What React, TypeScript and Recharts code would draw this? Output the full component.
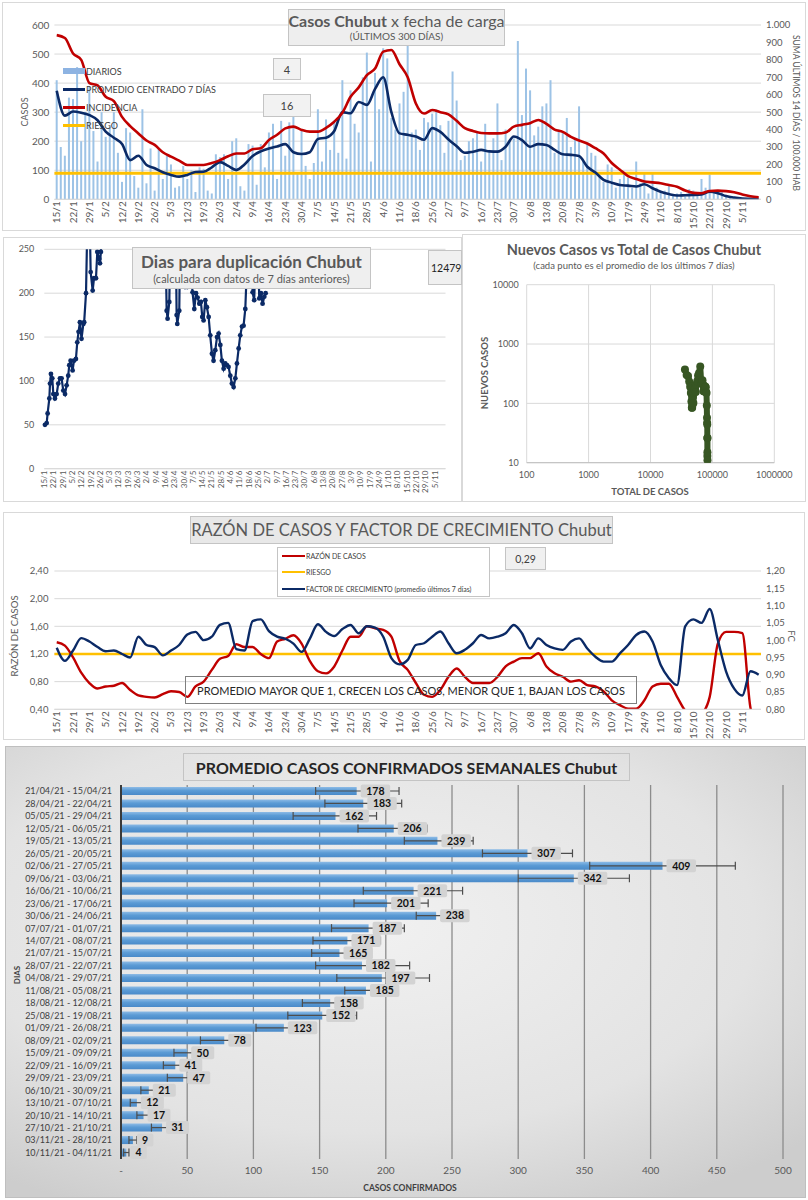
import React from 'react';
import {
  ComposedChart,
  LineChart,
  ScatterChart,
  BarChart,
  Bar,
  Line,
  Scatter,
  XAxis,
  YAxis,
  CartesianGrid,
  ReferenceLine,
  ErrorBar,
  LabelList,
} from 'recharts';

const FONT = 'Lato, "Open Sans", sans-serif';
const GRIS = '#595959';

// una etiqueta por semana desde el 15/1
const SEMANAS = [
  '15/1', '22/1', '29/1', '5/2', '12/2', '19/2', '26/2', '5/3', '12/3', '19/3', '26/3',
  '2/4', '9/4', '16/4', '23/4', '30/4', '7/5', '14/5', '21/5', '28/5', '4/6', '11/6',
  '18/6', '25/6', '2/7', '9/7', '16/7', '23/7', '30/7', '6/8', '13/8', '20/8', '27/8',
  '3/9', '10/9', '17/9', '24/9', '1/10', '8/10', '15/10', '22/10', '29/10', '5/11',
];
const TICKS_DIAS = SEMANAS.map((_, i) => i * 7);

// ---- Casos x fecha de carga: barras cada 1,75 dias, lineas cada 3,5 dias
const DIARIOS = [
  410, 180, 150, 350, 345, 455, 200, 300, 390, 235, 130, 300, 215, 250, 300, 160, 60, 245, 230, 80,
  40, 310, 55, 175, 30, 175, 70, 150, 120, 40, 45, 115, 70, 100, 25, 110, 105, 30, 20, 155,
  145, 155, 70, 200, 210, 45, 30, 190, 185, 50, 190, 110, 230, 260, 70, 270, 150, 265, 290, 90,
  235, 115, 70, 125, 310, 130, 275, 170, 270, 160, 410, 140, 375, 260, 230, 420, 505, 130, 435, 310,
  520, 485, 280, 240, 330, 370, 560, 230, 240, 170, 280, 265, 295, 310, 255, 160, 270, 440, 340, 135,
  150, 200, 210, 230, 130, 260, 170, 210, 330, 135, 240, 200, 210, 545, 290, 450, 375, 220, 250, 320,
  330, 410, 160, 240, 230, 280, 180, 210, 320, 130, 190, 160, 150, 80, 60, 120, 110, 40, 70, 90,
  75, 40, 130, 55, 90, 20, 90, 40, 25, 30, 50, 15, 20, 25, 10, 35, 30, 15, 70, 40,
  85, 30, 20, 25, 15, 10, 5, 8, 4, 6, 3, 2, 2,
];
const PROMEDIO_7D = [
  374, 288, 302, 298, 290, 272, 233, 212, 190, 135,
  150, 118, 107, 93, 84, 78, 84, 94, 95, 110,
  128, 115, 101, 120, 149, 165, 175, 182, 190, 162,
  156, 162, 208, 212, 235, 300, 296, 335, 325, 380,
  420, 300, 227, 222, 216, 205, 245, 232, 206, 183,
  160, 164, 170, 165, 164, 181, 216, 204, 181, 190,
  187, 170, 155, 153, 149, 112, 92, 67, 57, 49,
  47, 44, 52, 38, 26, 18, 13, 14, 15, 17,
  26, 21, 11, 6, 3, 2, 2,
];
const INCIDENCIA = [
  942, 925, 837, 800, 667, 653, 588, 563, 473, 420,
  378, 337, 312, 270, 245, 222, 197, 197, 197, 208,
  225, 247, 263, 263, 287, 293, 340, 370, 407, 417,
  398, 388, 388, 410, 445, 497, 588, 642, 713, 750,
  847, 857, 775, 700, 550, 492, 512, 500, 487, 450,
  408, 392, 380, 378, 378, 383, 417, 427, 437, 455,
  433, 400, 387, 358, 337, 320, 293, 263, 208, 170,
  133, 117, 102, 97, 92, 82, 72, 50, 37, 35,
  48, 50, 47, 40, 28, 17, 12,
];
const RIESGO_INCIDENCIA = 150;

// ---- Dias para duplicacion (dia desde 15/1, dias)
const DUP_DIA = [
  0.5, 1.8, 2.5, 3.8, 4.3, 5, 6, 6.8, 8, 9.3, 10.5, 11.8, 13, 14.3, 15.6, 16.8, 18, 18.8, 19.8, 21.3,
  22.3, 23.8, 24.8, 25.8, 26.8, 28, 29.4, 30, 31.4, 32.4, 33.6, 34.9, 36.4, 37.4, 38.9, 39.9, 41.4, 41.9, 42.6, 43.9,
  47, 52, 58, 64, 70, 76, 82, 88, 90.8, 92.1, 92.8, 94.1, 95.1, 97, 98.8, 99.6, 100.1, 101.6, 102.4, 104.1,
  105.9, 107.6, 109.6, 111.6, 112.9, 114.2, 115.4, 116.7, 117.9, 118.9, 119.9, 121.2, 122.4, 123.7, 124.9, 126.2, 127.4, 128.7, 130, 131.2,
  132.5, 133.7, 135, 136.2, 137.5, 138.7, 140, 141.2, 142.5, 143.8, 145, 146.3, 147.5, 148.8, 150, 151.3, 152.5, 153.8, 155.3, 156.8,
  158, 159.3, 160.6, 161.8, 163.1, 164.3, 165.6, 166.6,
];
const DUP_VALOR = [
  50, 52, 63, 80, 97, 108, 103, 85, 80, 85, 97, 103, 103, 89, 85, 95, 106, 118, 123, 112,
  123, 125, 144, 156, 167, 148, 165, 167, 200, 280, 330, 224, 203, 217, 217, 247, 239, 234, 247, 300,
  360, 420, 480, 520, 470, 430, 380, 330, 300, 180, 171, 190, 290, 330, 290, 175, 165, 180, 290, 300,
  207, 207, 240, 201, 182, 200, 195, 188, 190, 173, 169, 192, 184, 173, 152, 131, 123, 135, 150, 154,
  141, 123, 114, 120, 118, 116, 106, 97, 93, 103, 120, 137, 152, 162, 163, 182, 230, 300, 320, 201,
  192, 260, 270, 194, 200, 188, 196, 200,
];

// ---- Nuevos casos vs total (semanal)
const TOTAL_CASOS = [
  36000, 38300, 40400, 42200, 43700, 44900, 45800, 46500, 47100, 47700, 48500, 49300, 50200, 51400, 52700,
  53900, 55200, 56800, 58700, 60900, 63600, 65900, 67500, 69100, 70600, 71800, 73000, 74200, 75400, 76800,
  78100, 79300, 80300, 81200, 81800, 82200, 82600, 82800, 82900, 83000, 83200, 83300, 83350,
];
const NUEVOS_CASOS = [
  374, 302, 290, 233, 190, 150, 107, 84, 84, 95, 128, 101, 149, 175, 190,
  156, 208, 235, 296, 325, 420, 227, 216, 245, 206, 160, 170, 158, 185, 193,
  187, 155, 149, 92, 57, 47, 44, 26, 13, 15, 26, 11, 3,
];

// ---- Razon de casos y factor de crecimiento (cada 3,5 dias)
const RAZON = [
  1.37, 1.32, 1.15, 0.93, 0.78, 0.7, 0.73, 0.74, 0.78, 0.68,
  0.6, 0.58, 0.57, 0.62, 0.66, 0.65, 0.58, 0.73, 0.8, 0.97,
  1.13, 1.17, 1.34, 1.3, 1.3, 1.2, 1.14, 1.38, 1.42, 1.47,
  1.35, 1.1, 0.95, 0.92, 1.02, 1.25, 1.45, 1.45, 1.6, 1.57,
  1.55, 1.45, 1.1, 0.97, 0.78, 0.61, 0.58, 0.68, 0.87, 0.99,
  0.87, 0.78, 0.78, 0.78, 0.87, 1.02, 1.09, 1.14, 1.14, 1.21,
  1.02, 0.92, 0.87, 0.8, 0.82, 0.75, 0.73, 0.66, 0.53, 0.46,
  0.41, 0.41, 0.53, 0.73, 0.77, 0.77, 0.58, 0.38, 0.3, 0.34,
  0.58, 1.35, 1.52, 1.52, 1.5, 0.42, 0.15,
];
const FACTOR_CRECIMIENTO = [
  0.978, 0.94, 0.97, 1.006, 0.996, 0.98, 0.968, 0.97, 0.96, 0.95,
  1.01, 0.986, 0.98, 0.956, 0.97, 0.986, 1.016, 1.024, 1.0, 1.01,
  1.044, 1.05, 0.974, 0.97, 1.055, 1.06, 1.026, 1.01, 1.004, 0.99,
  0.966, 1.004, 1.046, 1.024, 1.012, 1.032, 1.044, 1.02, 1.04, 1.036,
  1.01, 0.948, 0.93, 0.943, 0.986, 0.991, 1.01, 1.025, 0.991, 0.962,
  0.972, 0.991, 1.015, 1.005, 1.01, 1.02, 1.044, 1.02, 0.976, 1.005,
  0.986, 0.976, 0.972, 0.996, 1.005, 0.976, 0.952, 0.938, 0.938, 0.962,
  0.986, 1.015, 1.025, 0.996, 0.928, 0.89, 0.87, 1.04, 1.06, 1.05,
  1.09, 1.0, 0.91, 0.86, 0.84, 0.91, 0.9,
];
const RIESGO_RAZON = 1.2;

// ---- Promedio casos confirmados semanales
const PERIODOS = [
  '21/04/21 - 15/04/21', '28/04/21 - 22/04/21', '05/05/21 - 29/04/21', '12/05/21 - 06/05/21',
  '19/05/21 - 13/05/21', '26/05/21 - 20/05/21', '02/06/21 - 27/05/21', '09/06/21 - 03/06/21',
  '16/06/21 - 10/06/21', '23/06/21 - 17/06/21', '30/06/21 - 24/06/21', '07/07/21 - 01/07/21',
  '14/07/21 - 08/07/21', '21/07/21 - 15/07/21', '28/07/21 - 22/07/21', '04/08/21 - 29/07/21',
  '11/08/21 - 05/08/21', '18/08/21 - 12/08/21', '25/08/21 - 19/08/21', '01/09/21 - 26/08/21',
  '08/09/21 - 02/09/21', '15/09/21 - 09/09/21', '22/09/21 - 16/09/21', '29/09/21 - 23/09/21',
  '06/10/21 - 30/09/21', '13/10/21 - 07/10/21', '20/10/21 - 14/10/21', '27/10/21 - 21/10/21',
  '03/11/21 - 28/10/21', '10/11/21 - 04/11/21',
];
const PROMEDIOS = [178, 183, 162, 206, 239, 307, 409, 342, 221, 201, 238, 187, 171, 165, 182, 197, 185, 158, 152, 123, 78, 50, 41, 47, 21, 12, 17, 31, 9, 4];
const ERRORES = [
  [31, 32], [29, 29], [32, 31], [27, 25], [25, 27], [34, 34], [55, 55], [42, 42], [38, 37], [25, 31],
  [15, 14], [28, 27], [26, 25], [21, 20], [35, 36], [34, 36], [16, 17], [21, 21], [26, 26], [21, 20],
  [18, 17], [10, 10], [9, 9], [12, 11], [6, 6], [5, 5], [5, 5], [8, 9], [3, 3], [2, 2],
];

const datosCasos = DIARIOS.map((v, i) => ({
  dia: i * 1.75,
  diarios: v,
  promedio: i % 2 === 0 ? PROMEDIO_7D[i / 2] : undefined,
  incidencia: i % 2 === 0 ? INCIDENCIA[i / 2] : undefined,
}));
const datosDuplicacion = DUP_DIA.map((d, i) => ({ dia: d, dias: DUP_VALOR[i] }));
const datosNuevos = TOTAL_CASOS.map((t, i) => ({ total: t, nuevos: NUEVOS_CASOS[i] }));
const datosRazon = RAZON.map((r, i) => ({ dia: i * 3.5, razon: r, fc: FACTOR_CRECIMIENTO[i] }));
const datosSemanales = PERIODOS.map((p, i) => ({ periodo: p, promedio: PROMEDIOS[i], error: ERRORES[i] }));

const TickFecha = ({ x, y, payload, size }: any) => (
  <text
    x={x}
    y={y}
    transform={`rotate(-90 ${x} ${y})`}
    textAnchor="end"
    dy="0.35em"
    fontSize={size}
    fill={GRIS}
  >
    {SEMANAS[Math.round(payload.value / 7)]}
  </text>
);

const TickPeriodo = ({ x, y, payload }: any) => (
  <text x={x} y={y} dy="0.35em" textAnchor="end" fontSize={9} fill="#404040">
    {payload.value}
  </text>
);

const Caja = ({ left, top, width, height, children, style }: any) => (
  <div
    style={{
      position: 'absolute', left, top, width, height, boxSizing: 'border-box',
      border: '1px solid #c4c4c4', background: '#eeeeee', color: '#404040', whiteSpace: 'nowrap',
      display: 'flex', flexDirection: 'column', alignItems: 'center', justifyContent: 'center',
      ...style,
    }}
  >
    {children}
  </div>
);

const TextoRotado = ({ x, y, angle, children, style }: any) => (
  <div
    style={{
      position: 'absolute', left: x, top: y, whiteSpace: 'nowrap',
      transform: `translate(-50%, -50%) rotate(${angle}deg)`, ...style,
    }}
  >
    {children}
  </div>
);

const ItemLeyenda = ({ left, top, color, alto, texto, fontSize, ancho = 22 }: any) => (
  <div style={{ position: 'absolute', left, top, display: 'flex', alignItems: 'center', whiteSpace: 'nowrap', height: 12 }}>
    <div style={{ width: ancho, height: alto, background: color }} />
    <span style={{ fontSize, color: '#404040', marginLeft: 1 }}>{texto}</span>
  </div>
);

const Panel = ({ left, top, width, height, style }: any) => (
  <div style={{ position: 'absolute', left, top, width, height, boxSizing: 'border-box', border: '1px solid #d9d9d9', ...style }} />
);

const EtiquetaValor = (props: any) => {
  const { x, y, width, height, value } = props;
  const txt = String(value);
  const w = txt.length * 6.5 + 10;
  const bx = x + width + 4;
  const cy = y + height / 2;
  return (
    <g>
      <rect x={bx} y={cy - 6.5} width={w} height={13} rx={2} fill="#d3d3d3" />
      <text x={bx + w / 2} y={cy} dy="0.36em" textAnchor="middle" fontSize={10.5} fontWeight="bold" fill="#111">
        {txt}
      </text>
    </g>
  );
};

function GraficoCasos() {
  return (
    <>
      <Panel left={2} top={2} width={804} height={229} />
      <div style={{ position: 'absolute', left: 0, top: 0 }}>
        <ComposedChart width={808} height={232} data={datosCasos} margin={{ top: 25, right: 7, bottom: 2.7, left: 14.4 }}>
          <CartesianGrid yAxisId="izq" vertical={false} stroke="#d9d9d9" />
          <XAxis
            type="number" dataKey="dia" domain={[-1, 302]} ticks={TICKS_DIAS} interval={0}
            tick={(p: any) => <TickFecha {...p} size={10} />}
            tickLine={false} axisLine={{ stroke: '#d9d9d9' }} height={30} tickSize={0} tickMargin={2}
          />
          <YAxis
            yAxisId="izq" domain={[0, 600]} ticks={[0, 100, 200, 300, 400, 500, 600]} width={40}
            tickLine={false} axisLine={false} tickSize={3} tickMargin={2}
            tick={{ fontSize: 10, fill: GRIS }}
          />
          <YAxis
            yAxisId="der" orientation="right" domain={[0, 1000]}
            ticks={[0, 100, 200, 300, 400, 500, 600, 700, 800, 900, 1000]} width={40}
            tickLine={false} axisLine={false} tickSize={3} tickMargin={2}
            tick={{ fontSize: 9.5, fill: GRIS }}
            tickFormatter={(v: number) => (v === 1000 ? '1.000' : String(v))}
          />
          <Bar yAxisId="izq" dataKey="diarios" fill="#9dc3e6" barSize={2} isAnimationActive={false} />
          <ReferenceLine yAxisId="der" y={RIESGO_INCIDENCIA} stroke="#ffc000" strokeWidth={3} />
          <Line yAxisId="izq" type="monotone" dataKey="promedio" stroke="#0b2a66" strokeWidth={2.6} dot={false} connectNulls isAnimationActive={false} />
          <Line yAxisId="der" type="monotone" dataKey="incidencia" stroke="#c00000" strokeWidth={2.6} dot={false} connectNulls isAnimationActive={false} />
        </ComposedChart>
      </div>
      <Caja left={288} top={9} width={217} height={37} style={{ color: GRIS }}>
        <div style={{ fontSize: 16, lineHeight: '18px' }}>
          <b>Casos Chubut</b> x fecha de carga
        </div>
        <div style={{ fontSize: 10, lineHeight: '13px' }}>(ÚLTIMOS 300 DÍAS)</div>
      </Caja>
      <Caja left={273} top={58} width={28} height={22} style={{ fontSize: 11, background: '#f2f2f2' }}>4</Caja>
      <Caja left={263} top={94} width={48} height={23} style={{ fontSize: 11, background: '#f2f2f2' }}>16</Caja>
      <ItemLeyenda left={63} top={65} color="#8db3e2" alto={6} texto="DIARIOS" fontSize={9} />
      <ItemLeyenda left={63} top={83} color="#0b2a66" alto={3} texto="PROMEDIO CENTRADO 7 DÍAS" fontSize={9} />
      <ItemLeyenda left={63} top={101} color="#c00000" alto={3} texto="INCIDENCIA" fontSize={9} />
      <ItemLeyenda left={63} top={119} color="#ffc000" alto={3} texto="RIESGO" fontSize={9} />
      <TextoRotado x={24} y={112} angle={-90} style={{ fontSize: 9, color: GRIS }}>CASOS</TextoRotado>
      <TextoRotado x={796} y={113} angle={90} style={{ fontSize: 8.5, color: GRIS }}>SUMA  ÚLTIMOS 14 DÍAS / 100.000 HAB</TextoRotado>
    </>
  );
}

function GraficoDuplicacion() {
  return (
    <>
      <Panel left={3} top={237} width={459} height={265} />
      <div style={{ position: 'absolute', left: 0, top: 232 }}>
        <LineChart width={460} height={270} data={datosDuplicacion} margin={{ top: 17.3, right: 14.5, bottom: 1.3, left: 4.3 }}>
          <CartesianGrid vertical={false} stroke="#d9d9d9" />
          <XAxis
            type="number" dataKey="dia" domain={[0, 302]} ticks={TICKS_DIAS} interval={0}
            tick={(p: any) => <TickFecha {...p} size={8} />}
            tickLine={false} axisLine={{ stroke: '#d9d9d9' }} height={32} tickSize={0} tickMargin={2}
          />
          <YAxis
            domain={[0, 250]} ticks={[0, 50, 100, 150, 200, 250]} allowDataOverflow width={40}
            tickLine={false} axisLine={false} tickSize={0} tickMargin={10}
            tick={{ fontSize: 9, fill: GRIS }}
          />
          <Line
            dataKey="dias" stroke="#0b2a66" strokeWidth={2.2}
            dot={{ r: 2.4, fill: '#0b2a66', stroke: '#0b2a66', strokeWidth: 0 }}
            isAnimationActive={false}
          />
        </LineChart>
      </div>
      <Caja left={132} top={247} width={239} height={42} style={{ color: GRIS, background: '#efefef' }}>
        <div style={{ fontSize: 17, fontWeight: 'bold', lineHeight: '21px' }}>Dias para duplicación Chubut</div>
        <div style={{ fontSize: 11, lineHeight: '14px' }}>(calculada con datos de 7 días anteriores)</div>
      </Caja>
      <Caja left={428} top={250} width={34} height={35} style={{ fontSize: 10.5, color: '#222', background: '#f0f0f0', alignItems: 'flex-start', paddingLeft: 2 }}>12479</Caja>
    </>
  );
}

function GraficoNuevos() {
  return (
    <>
      <Panel left={462} top={234} width={344} height={268} />
      <div style={{ position: 'absolute', left: 460, top: 232 }}>
        <ScatterChart width={348} height={270} margin={{ top: 52.7, right: 33.7, bottom: 14.3, left: 26.7 }}>
          <CartesianGrid stroke="#d9d9d9" />
          <XAxis
            type="number" dataKey="total" scale="log" domain={[100, 1000000]}
            ticks={[100, 1000, 10000, 100000, 1000000]} allowDataOverflow height={25}
            tickLine={false} axisLine={{ stroke: '#bfbfbf' }} tickSize={0} tickMargin={9}
            tick={{ fontSize: 9, fill: GRIS }}
          />
          <YAxis
            type="number" dataKey="nuevos" scale="log" domain={[10, 10000]}
            ticks={[10, 100, 1000, 10000]} allowDataOverflow width={40}
            tickLine={false} axisLine={false} tickSize={0} tickMargin={8}
            tick={{ fontSize: 9, fill: GRIS }}
          />
          <Scatter
            data={datosNuevos} fill="#375623" isAnimationActive={false}
            line={{ stroke: '#375623', strokeWidth: 6 }}
            shape={(p: any) => <circle cx={p.cx} cy={p.cy} r={4} fill="#375623" />}
          />
        </ScatterChart>
      </div>
      <div style={{ position: 'absolute', left: 462, width: 344, top: 241, textAlign: 'center', color: GRIS }}>
        <div style={{ fontSize: 14.5, fontWeight: 'bold', lineHeight: '18px' }}>Nuevos Casos vs Total de Casos Chubut</div>
        <div style={{ fontSize: 9.5, lineHeight: '13px' }}>(cada punto es el promedio de los últimos 7 días)</div>
      </div>
      <TextoRotado x={484} y={373} angle={-90} style={{ fontSize: 9.5, fontWeight: 'bold', color: GRIS }}>NUEVOS  CASOS</TextoRotado>
      <TextoRotado x={650} y={491} angle={0} style={{ fontSize: 9.5, fontWeight: 'bold', color: GRIS }}>TOTAL DE CASOS</TextoRotado>
    </>
  );
}

function GraficoRazon() {
  const fmt = (v: number) => v.toFixed(2).replace('.', ',');
  return (
    <>
      <Panel left={3} top={512} width={802} height={228} />
      <div style={{ position: 'absolute', left: 0, top: 510 }}>
        <ComposedChart width={808} height={230} data={datosRazon} margin={{ top: 61, right: 7, bottom: 0.7, left: 14.4 }}>
          <CartesianGrid yAxisId="izq" vertical={false} stroke="#d9d9d9" />
          <XAxis
            type="number" dataKey="dia" domain={[-1, 302]} ticks={TICKS_DIAS} interval={0}
            tick={(p: any) => <TickFecha {...p} size={10} />}
            tickLine={false} axisLine={{ stroke: '#d9d9d9' }} height={30} tickSize={0} tickMargin={2}
          />
          <YAxis
            yAxisId="izq" domain={[0.4, 2.4]} allowDataOverflow
            ticks={[0.4, 0.6, 0.8, 1.0, 1.2, 1.4, 1.6, 1.8, 2.0, 2.2, 2.4]} width={40}
            tickLine={false} axisLine={false} tickSize={3} tickMargin={3}
            tick={{ fontSize: 9.5, fill: GRIS }} tickFormatter={fmt}
          />
          <YAxis
            yAxisId="der" orientation="right" domain={[0.8, 1.2]} allowDataOverflow
            ticks={[0.8, 0.85, 0.9, 0.95, 1.0, 1.05, 1.1, 1.15, 1.2]} width={40}
            tickLine={false} axisLine={false} tickSize={3} tickMargin={2}
            tick={{ fontSize: 9.5, fill: GRIS }} tickFormatter={fmt}
          />
          <ReferenceLine yAxisId="izq" y={RIESGO_RAZON} stroke="#ffc000" strokeWidth={2.6} />
          <Line yAxisId="izq" type="monotone" dataKey="razon" stroke="#c00000" strokeWidth={2.4} dot={false} isAnimationActive={false} />
          <Line yAxisId="der" type="monotone" dataKey="fc" stroke="#0b2a66" strokeWidth={2.4} dot={false} isAnimationActive={false} />
        </ComposedChart>
      </div>
      <Caja left={190} top={516} width={423} height={28} style={{ fontSize: 16.5, color: GRIS, background: '#e8e8e8' }}>
        RAZÓN DE CASOS Y FACTOR DE CRECIMIENTO Chubut
      </Caja>
      <div style={{ position: 'absolute', left: 277, top: 547, width: 213, height: 50, boxSizing: 'border-box', border: '1px solid #c4c4c4', background: '#fff' }} />
      <ItemLeyenda left={282} top={550} color="#c00000" alto={2.5} ancho={23} texto="RAZÓN DE CASOS" fontSize={7} />
      <ItemLeyenda left={282} top={566} color="#ffc000" alto={2.5} ancho={23} texto="RIESGO" fontSize={7} />
      <ItemLeyenda left={282} top={583} color="#0b2a66" alto={2.5} ancho={23} texto="FACTOR DE CRECIMIENTO (promedio últimos 7 días)" fontSize={7} />
      <Caja left={505} top={547} width={41} height={23} style={{ fontSize: 10.5, background: '#f0f0f0' }}>0,29</Caja>
      <div
        style={{
          position: 'absolute', left: 185, top: 676, width: 452, height: 28, boxSizing: 'border-box',
          border: '1px solid #7f7f7f', fontSize: 11, color: '#262626', display: 'flex', alignItems: 'center',
          justifyContent: 'center', whiteSpace: 'nowrap',
        }}
      >
        PROMEDIO MAYOR QUE 1, CRECEN LOS CASOS, MENOR QUE 1, BAJAN LOS CASOS
      </div>
      <TextoRotado x={14} y={636} angle={-90} style={{ fontSize: 9.5, color: GRIS }}>RAZÓN  DE CASOS</TextoRotado>
      <TextoRotado x={791} y={636} angle={90} style={{ fontSize: 9.5, color: GRIS }}>FC</TextoRotado>
    </>
  );
}

function GraficoSemanal() {
  return (
    <>
      <Panel
        left={5} top={746} width={801} height={452}
        style={{ border: '1px solid #bfbfbf', background: 'radial-gradient(ellipse 75% 70% at 45% 40%, #f1f1f1 0%, #e3e3e3 65%, #cdcdcd 100%)' }}
      />
      <div style={{ position: 'absolute', left: 0, top: 745 }}>
        <BarChart layout="vertical" width={808} height={455} data={datosSemanales} margin={{ top: 40, right: 25, bottom: 16, left: 0 }}>
          <defs>
            <linearGradient id="gBarra" x1="0" y1="0" x2="0" y2="1">
              <stop offset="0%" stopColor="#8dbbe6" />
              <stop offset="45%" stopColor="#5b9bd5" />
              <stop offset="100%" stopColor="#4a8ac9" />
            </linearGradient>
          </defs>
          <CartesianGrid horizontal={false} stroke="#8c8c8c" strokeWidth={1.3} />
          <XAxis
            type="number" domain={[0, 500]} ticks={[0, 50, 100, 150, 200, 250, 300, 350, 400, 450, 500]}
            height={25} tickLine={false} axisLine={false} tickSize={0} tickMargin={8}
            tick={{ fontSize: 10, fill: GRIS }}
            tickFormatter={(v: number) => (v === 0 ? '-' : String(v))}
          />
          <YAxis
            type="category" dataKey="periodo" width={121} interval={0}
            tickLine={false} axisLine={{ stroke: '#3a3a3a', strokeWidth: 2 }} tickSize={0} tickMargin={9}
            tick={(p: any) => <TickPeriodo {...p} />}
          />
          <Bar dataKey="promedio" barSize={8} fill="url(#gBarra)" isAnimationActive={false}>
            <ErrorBar dataKey="error" direction="x" width={4} stroke="#4d4d4d" strokeWidth={1.2} />
            <LabelList dataKey="promedio" content={<EtiquetaValor />} />
          </Bar>
        </BarChart>
      </div>
      <Caja left={183} top={753} width={447} height={28} style={{ fontSize: 16, fontWeight: 'bold', color: '#262626', background: 'transparent' }}>
        PROMEDIO CASOS CONFIRMADOS SEMANALES Chubut
      </Caja>
      <TextoRotado x={17} y={975} angle={-90} style={{ fontSize: 8, fontWeight: 'bold', color: '#404040' }}>DIAS</TextoRotado>
      <TextoRotado x={410} y={1188} angle={0} style={{ fontSize: 8.5, fontWeight: 'bold', color: '#404040' }}>CASOS CONFIRMADOS</TextoRotado>
    </>
  );
}

export default function App() {
  return (
    <div
      style={{
        position: 'absolute', left: 0, top: 0, width: 808, height: 1200,
        background: '#fff', fontFamily: FONT, overflow: 'hidden',
      }}
    >
      <GraficoCasos />
      <GraficoDuplicacion />
      <GraficoNuevos />
      <GraficoRazon />
      <GraficoSemanal />
    </div>
  );
}
